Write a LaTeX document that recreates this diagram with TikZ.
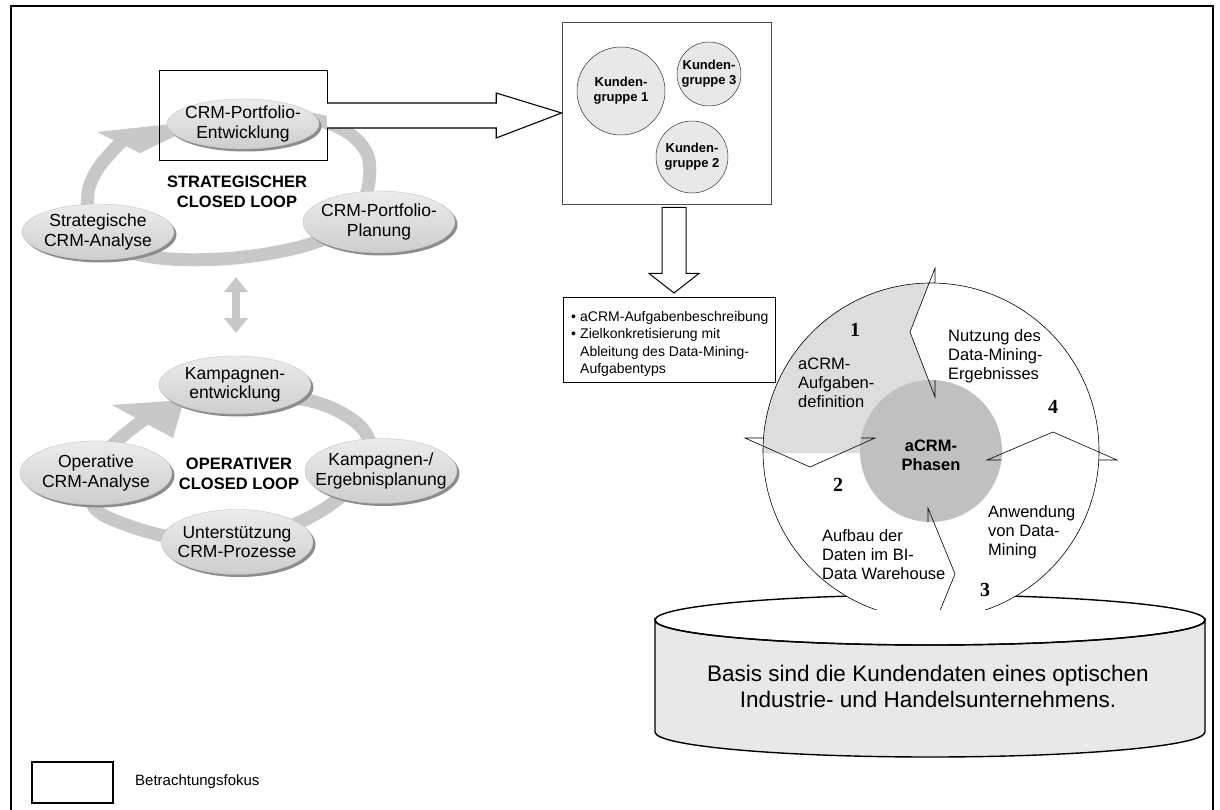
\documentclass[tikz,border=0pt]{standalone}
\usepackage{fontspec}
\setmainfont{Liberation Sans}
\newfontfamily\numfont{Liberation Serif}
\usetikzlibrary{shapes.geometric,arrows.meta,calc,shadows}

\definecolor{bandgray}{RGB}{200,200,200}
\definecolor{nodetop}{RGB}{236,236,236}
\definecolor{nodebot}{RGB}{206,206,206}
\definecolor{nodeshadow}{RGB}{140,140,140}
\definecolor{groupfill}{RGB}{232,232,232}
\definecolor{phasefill}{RGB}{221,221,221}
\definecolor{hubfill}{RGB}{192,192,192}
\definecolor{drumfill}{RGB}{232,232,232}

\tikzset{
  loopnode/.style={ellipse, minimum width=152pt, inner xsep=-22pt, inner ysep=-8pt,
    top color=nodetop, bottom color=nodebot, draw=gray!55, line width=0.3pt,
    align=center, font=\fontsize{17.5}{19.5}\selectfont,
    drop shadow={shadow xshift=2.5pt, shadow yshift=-2.5pt, fill=nodeshadow, opacity=1}},
  looptitle/.style={align=center, inner sep=0pt, font=\bfseries\fontsize{16.5}{20}\selectfont},
  band/.style={draw=bandgray, line width=13pt, line join=round},
  group/.style={circle, draw=black!80, line width=0.5pt, fill=groupfill, align=center,
    inner sep=0pt, font=\bfseries\fontsize{13}{15}\selectfont},
  hollow/.style={draw=black, line width=1.1pt, fill=white, line join=miter},
  phase/.style={anchor=west, align=left, inner sep=0pt, font=\fontsize{16.5}{19}\selectfont},
  phasenum/.style={inner sep=0pt, font=\numfont\bfseries\fontsize{20}{20}\selectfont},
  ringline/.style={draw=black, line width=0.6pt},
}

\begin{document}
\begin{tikzpicture}[x=1pt,y=-1pt]
\useasboundingbox (0,0) rectangle (1220,810);
\fill[white] (0,0) rectangle (1220,810);
\draw[line width=1.3pt] (11,6) rectangle (1213,830);

% ---------- strategic closed loop ----------
\draw[band] plot[smooth, tension=0.55] coordinates {(124,139) (99,167) (88,193) (92,224) (120,249) (170,259) (235,258) (300,247) (345,228) (366,195) (369,160) (355,138) (328,123) (290,117) (250,118)};
\fill[bandgray] (97,132) -- (140,153) -- (209,120) -- cycle;

\node[loopnode, minimum height=50pt] (sdev) at (243,124) {CRM-Portfolio-\\Entwicklung};
\node[loopnode, minimum height=56pt] (sana) at (98,232) {Strategische\\CRM-Analyse};
\node[loopnode, minimum height=62pt] (splan) at (379,222) {CRM-Portfolio-\\Planung};
\node[looptitle] (stitle) at (237,192) {STRATEGISCHER\\CLOSED LOOP};

% ---------- operative closed loop ----------
\draw[band] plot[smooth, tension=0.55] coordinates {(146,418) (118,440) (95,465) (90,497) (105,516) (160,535) (215,541) (265,535) (300,522) (330,505) (358,480) (370,448) (362,428) (340,412) (311,401) (270,396) (230,396)};
\fill[bandgray] (112,405) -- (173,438) -- (184,400) -- cycle;

\node[loopnode, minimum height=58pt] (odev) at (235,385) {Kampagnen-\\entwicklung};
\node[loopnode, minimum height=64pt] (oana) at (96,473) {Operative\\CRM-Analyse};
\node[loopnode, minimum height=65pt] (oplan) at (381,471) {Kampagnen-/\\Ergebnisplanung};
\node[loopnode, minimum height=65pt] (osup) at (237,542) {Unterstützung\\CRM-Prozesse};
\node[looptitle] (otitle) at (239,474) {OPERATIVER\\CLOSED LOOP};

% link between the two loops
\coordinate (linkA) at (236,277);
\coordinate (linkB) at (236,333);
\draw[draw=bandgray, line width=8pt, {Triangle[width=23pt,length=15pt]}-{Triangle[width=23pt,length=15pt]}] (linkA) -- (linkB);

% ---------- focus frame and customer groups ----------
\node[minimum width=167pt, minimum height=89pt, inner sep=0pt] (focus) at (243.5,115.5) {};
\draw[line width=1.3pt] ($(focus.east)+(0,-12.5)$) -- (focus.north east) -- (focus.north west)
  -- (focus.south west) -- (focus.south east) -- ($(focus.east)+(0,12.5)$);

\node[draw=black!70, line width=0.8pt, minimum width=209pt, minimum height=182pt, inner sep=0pt] (groups) at (666.5,113) {};
\node[group, minimum size=88pt] (kg1) at (621,91) {Kunden-\\gruppe 1};
\node[group, minimum size=64pt] (kg3) at (709,74) {Kunden-\\gruppe 3};
\node[group, minimum size=72pt] (kg2) at (692,157) {Kunden-\\gruppe 2};

\draw[hollow] ($(focus.east)+(0,-12.5)$) -- ($(focus.east)+(169,-12.5)$) -- ($(focus.east)+(169,-22.5)$)
  -- (groups.west) -- ($(focus.east)+(169,22.5)$) -- ($(focus.east)+(169,12.5)$) -- ($(focus.east)+(0,12.5)$);

% ---------- task description ----------
\node[draw, line width=1.3pt, minimum width=212pt, minimum height=85pt, anchor=north west, inner sep=0pt] (tb) at (563,297) {};
\node[anchor=west, align=left, inner sep=0pt, font=\fontsize{14}{17.5}\selectfont] (tbtext) at (571,344)
  {\makebox[9pt][l]{•}aCRM-Aufgabenbeschreibung\\
   \makebox[9pt][l]{•}Zielkonkretisierung mit\\
   \hspace*{9pt}Ableitung des Data-Mining-\\
   \hspace*{9pt}Aufgabentyps};

\coordinate (dtop) at ($(groups.south)+(7.5,3)$);
\coordinate (dtip) at ($(dtop |- tb.north)+(0,-4)$);
\draw[hollow, line width=1pt] ($(dtop)+(-12,0)$) -- ($(dtop)+(-12,66)$) -- ($(dtop)+(-25,66)$) -- (dtip)
  -- ($(dtop)+(25,66)$) -- ($(dtop)+(12,66)$) -- ($(dtop)+(12,0)$) -- cycle;

% ---------- data base drum ----------
\path[fill=drumfill, draw=black, line width=1.4pt] (655,620) -- (655,732)
  arc[start angle=180, end angle=0, x radius=275, y radius=25] -- (1205,620)
  arc[start angle=0, end angle=180, x radius=275, y radius=25] -- cycle;
\draw[line width=1.4pt] (930,620) ellipse [x radius=275, y radius=25];
\node[align=center, inner sep=0pt, font=\fontsize{22.5}{26}\selectfont] (drumtext) at (928,686)
  {Basis sind die Kundendaten eines optischen\\Industrie- und Handelsunternehmens.};

% ---------- aCRM phase cycle ----------
\coordinate (hub) at (931,451);
\begin{scope}
  \clip (600,200) rectangle (1220,609);
  \fill[white] (hub) circle[radius=168];
  \begin{scope}
    \clip (hub) circle[radius=168];
    \fill[phasefill] (935,250) -- (935,268) -- (910,332) -- (935,397) -- (935,453) -- (740,453) -- (740,250) -- cycle;
  \end{scope}
  \node[circle, fill=hubfill, minimum size=142pt, inner sep=0pt] (hubdisc) at (hub) {};
  \draw[ringline] (hub) circle[radius=168];
  \draw[ringline] (935,380) -- (935,397) -- (910,332) -- (935,268) -- (935,283);
  \draw[ringline] (861,438) -- (875,438) -- (810,467) -- (745,438) -- (763.5,438);
  \draw[ringline] (928,522) -- (928,508) -- (955,574) -- (928,640);
  \draw[ringline] (1001.4,460) -- (987,460) -- (1053,432) -- (1117,460) -- (1098.8,460);
\end{scope}

\node[inner sep=0pt, align=center, font=\bfseries\fontsize{16.5}{19}\selectfont] (hubtext) at (931,455) {aCRM-\\Phasen};

\node[phasenum] (num1) at (855,330) {1};
\node[phasenum] (num2) at (838,485) {2};
\node[phasenum] (num3) at (985,590) {3};
\node[phasenum] (num4) at (1053,407) {4};

\node[phase] (ph1) at (798,383) {aCRM-\\Aufgaben-\\definition};
\node[phase] (ph2) at (822,555) {Aufbau der\\Daten im BI-\\Data Warehouse};
\node[phase] (ph3) at (988,532) {Anwendung\\von Data-\\Mining};
\node[phase] (ph4) at (948,356) {Nutzung des\\Data-Mining-\\Ergebnisses};

% ---------- legend ----------
\node[draw, line width=1.6pt, minimum width=81pt, minimum height=41pt, inner sep=0pt] (legendbox) at (72.5,782.5) {};
\node[anchor=west, inner sep=0pt, font=\fontsize{15}{18}\selectfont] (legendtext) at (135,782) {Betrachtungsfokus};

\end{tikzpicture}
\end{document}
